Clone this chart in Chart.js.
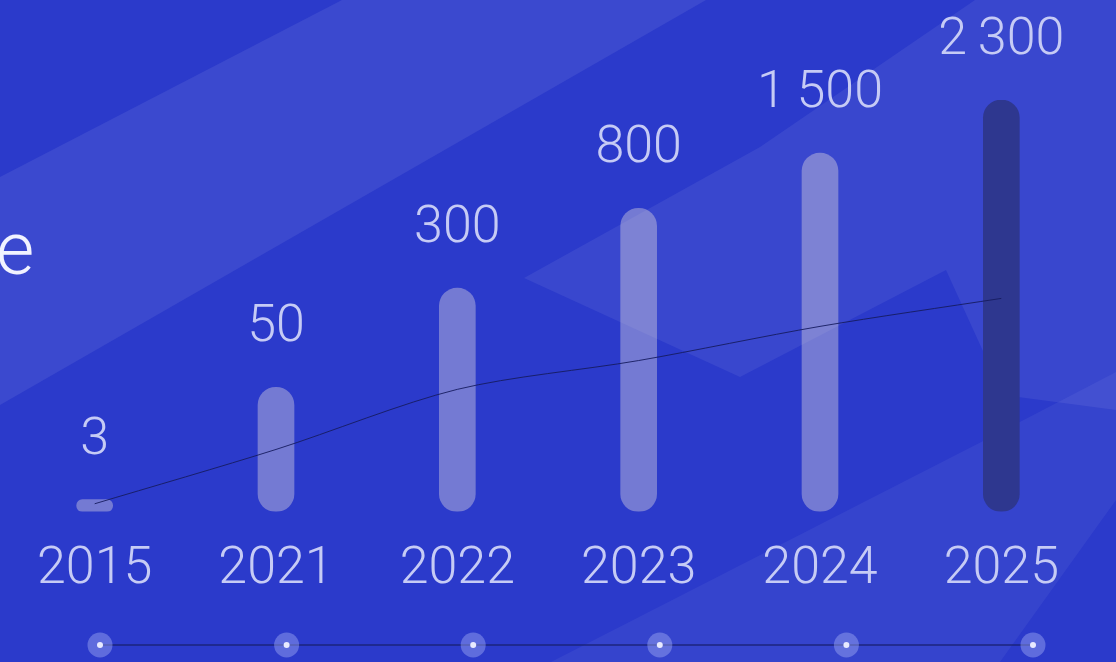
<!DOCTYPE html>
<html>
<head>
<meta charset="utf-8">
<script src="https://cdn.jsdelivr.net/npm/chart.js@4.4.1/dist/chart.umd.min.js"></script>
<style>
    html, body { margin: 0; padding: 0; }
    body {
        width: 1116px; height: 662px; overflow: hidden; position: relative;
        background: #2b3acb; font-family: Roboto, "Noto Sans", sans-serif;
    }
    canvas { position: absolute; left: 0; }
    #bg, #main { top: 0; }
    #timeline { top: 625px; }
    .title {
        position: absolute; left: -4px; top: 212px;
        font-size: 74px; line-height: 74px; font-weight: 300; color: #f1f3ff;
        white-space: nowrap;
    }
</style>
</head>
<body>
<canvas id="bg" width="1116" height="662"></canvas>
<div class="title">e</div>
<canvas id="main" width="1116" height="662"></canvas>
<canvas id="timeline" width="1116" height="40"></canvas>
<script>
    // years on the axis
    const years = ['2015', '2021', '2022', '2023', '2024', '2025'];
    // numbers printed above the bars
    const values = [3, 50, 300, 800, 1500, 2300];
    // bar lengths as drawn (tallest bar = 100)
    const barLevels = [2.9, 30.2, 54.3, 73.7, 87.1, 100];
    // thin trend line through the bars, same units
    const trendLevels = [1.9, 15.1, 29.7, 36.7, 45.0, 51.8];

    const labelColor = '#c6cbf5';
    const barColors = years.map((y, i) => i === years.length - 1 ? '#2e378f' : 'rgba(228,220,222,0.40)');

    // decorative background shapes
    const bg = document.getElementById('bg').getContext('2d');
    const poly = (pts, color) => {
        bg.beginPath();
        pts.forEach(([x, y], i) => i ? bg.lineTo(x, y) : bg.moveTo(x, y));
        bg.closePath();
        bg.fillStyle = color;
        bg.fill();
    };
    poly([[0, 177], [342, 0], [706, 0], [0, 405]], 'rgba(255,255,255,0.08)');
    poly([[524, 278], [760, 147], [975, 0], [1116, 0], [1116, 410], [1003, 395], [946, 270], [740, 377]], 'rgba(255,255,255,0.065)');
    poly([[551, 662], [991, 437], [1116, 372], [1116, 500], [1000, 662]], 'rgba(255,255,255,0.05)');

    const fmt = v => String(v).replace(/\B(?=(\d{3})+(?!\d))/g, '\u2009');

    const valueLabels = {
        id: 'valueLabels',
        afterDatasetsDraw(chart) {
            const meta = chart.getDatasetMeta(1);
            const ctx = chart.ctx;
            ctx.save();
            ctx.font = '300 52px Roboto';
            ctx.fillStyle = labelColor;
            ctx.textAlign = 'center';
            ctx.textBaseline = 'alphabetic';
            meta.data.forEach((bar, i) => {
                ctx.fillText(fmt(values[i]), bar.x, bar.y - 46);
            });
            ctx.restore();
        }
    };

    new Chart(document.getElementById('main'), {
        data: {
            labels: years,
            datasets: [{
                type: 'line',
                data: trendLevels,
                borderColor: 'rgba(22,28,95,0.9)',
                borderWidth: 1,
                tension: 0.3,
                pointRadius: 0,
                order: 0
            }, {
                type: 'bar',
                data: barLevels,
                backgroundColor: barColors,
                barThickness: 36,
                borderRadius: 18,
                borderSkipped: false,
                order: 1
            }]
        },
        options: {
            responsive: false,
            animation: false,
            layout: { padding: { left: 4, right: 24, top: 100, bottom: 42 } },
            plugins: { legend: { display: false }, tooltip: { enabled: false } },
            scales: {
                x: {
                    grid: { display: false },
                    border: { display: false },
                    ticks: {
                        color: labelColor,
                        padding: 19,
                        font: { family: 'Roboto', size: 52, weight: 300 }
                    }
                },
                y: { display: false, min: 0, max: 100 }
            }
        },
        plugins: [valueLabels]
    });

    // timeline dots along the bottom
    new Chart(document.getElementById('timeline'), {
        type: 'line',
        data: {
            labels: years,
            datasets: [{
                data: years.map(() => 0),
                showLine: false,
                pointRadius: 3,
                pointBackgroundColor: '#e8eaff',
                pointBorderWidth: 0,
                clip: false
            }, {
                data: years.map(() => 0),
                borderColor: 'rgba(25,32,110,0.85)',
                borderWidth: 1.5,
                pointRadius: 12.5,
                pointBackgroundColor: 'rgba(160,170,245,0.45)',
                pointBorderWidth: 0,
                clip: false
            }]
        },
        options: {
            responsive: false,
            animation: false,
            layout: { padding: { left: 100, right: 83, top: 0, bottom: 0 } },
            plugins: { legend: { display: false }, tooltip: { enabled: false } },
            scales: {
                x: { display: false, offset: false },
                y: { display: false, min: -1, max: 1 }
            }
        }
    });
</script>
</body>
</html>
